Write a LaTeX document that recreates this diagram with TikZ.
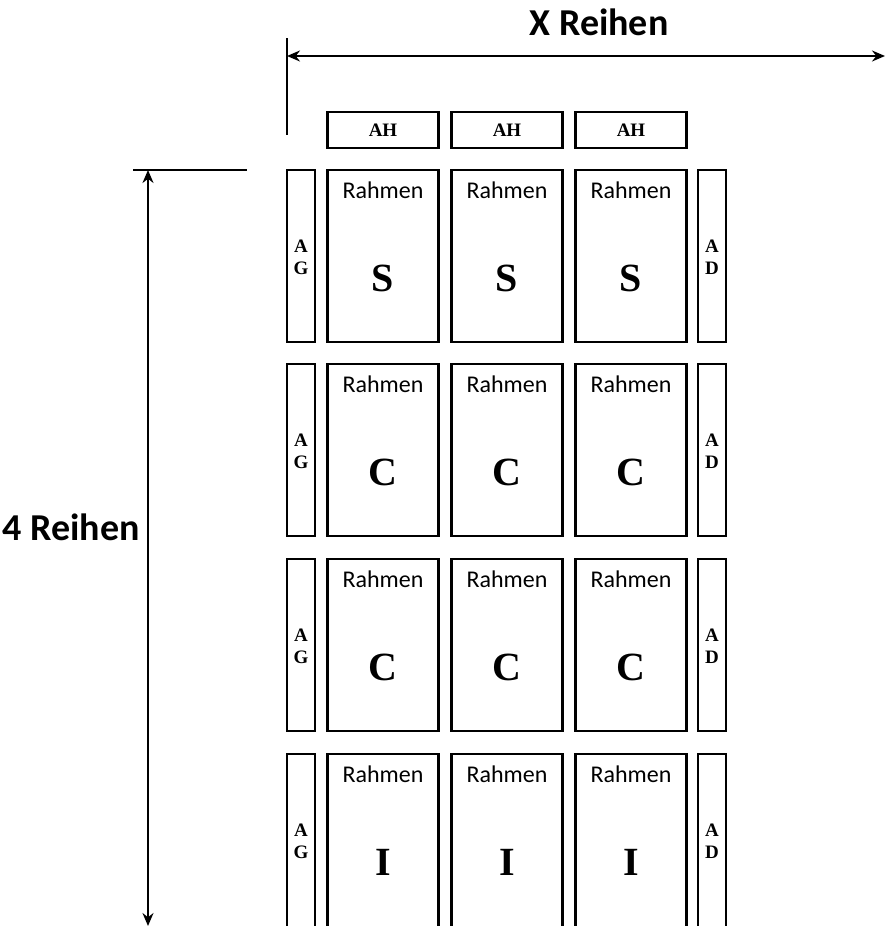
\documentclass[tikz,border=0pt]{standalone}
\usepackage{fontspec}
\setmainfont{Carlito}
\newfontfamily\serifb{Liberation Serif}
\usetikzlibrary{arrows.meta}
\begin{document}
\begin{tikzpicture}[x=1pt,y=-1pt,
  frame/.style={draw,line width=2.6pt,inner sep=0pt},
  mainbox/.style={frame,minimum width=111pt,minimum height=172pt},
  sidebox/.style={frame,minimum width=28pt,minimum height=172pt},
  ahbox/.style={frame,minimum width=111pt,minimum height=36pt,font=\serifb\bfseries\fontsize{19}{21}\selectfont},
  rtext/.style={font=\fontsize{24}{26}\selectfont,inner sep=0pt},
  bigletter/.style={font=\serifb\bfseries\fontsize{40}{42}\selectfont,inner sep=0pt},
  sideletter/.style={font=\serifb\bfseries\fontsize{19}{22}\selectfont,align=center,inner sep=0pt},
  title/.style={font=\bfseries\fontsize{38}{40}\selectfont,inner sep=0pt},
  dim/.style={line width=1.8pt,{Stealth[length=13pt,width=11pt]}-{Stealth[length=13pt,width=11pt]}},
  tick/.style={line width=1.6pt}
]
\clip (0,0) rectangle (894,926);
\useasboundingbox (0,0) rectangle (894,926);
% titles
\node[title] (xr) at (599,22) {X Reihen};
\node[title] (vr) at (71,527) {4 Reihen};
% dimension lines
\coordinate (hl) at (287,56);
\coordinate (hr) at (885,56);
\draw[dim] (hl) -- (hr);
\coordinate (t1a) at (287,38);
\coordinate (t1b) at (287,135);
\draw[tick] (t1a) -- (t1b);
\coordinate (vt) at (148,170);
\coordinate (vb) at (148,926);
\draw[dim] (vt) -- (vb);
\coordinate (t2a) at (133,170);
\coordinate (t2b) at (247,170);
\draw[tick] (t2a) -- (t2b);
% AH boxes
\foreach \x [count=\i] in {383,507,631}{
  \node[ahbox] (ah\i) at (\x,130) {AH};
}
% rows
\foreach \top/\L [count=\r] in {170/S,364/C,559/C,754/I}{
  \pgfmathsetmacro{\h}{\r==4 ? 200 : 172}
  \pgfmathsetmacro{\cy}{\top+\h/2}
  \node[sidebox,minimum height=\h pt] (ag\r) at (301,\cy) {};
  \node[sideletter] (agt\r) at (301,\top+87) {A\\G};
  \node[sidebox,minimum height=\h pt] (ad\r) at (712,\cy) {};
  \node[sideletter] (adt\r) at (712,\top+87) {A\\D};
  \foreach \x [count=\c] in {383,507,631}{
    \node[mainbox,minimum height=\h pt] (m\r\c) at (\x,\cy) {};
    \node[rtext] (rt\r\c) at (\x,\top+20) {Rahmen};
    \node[bigletter] (bl\r\c) at (\x,\top+108) {\L};
  }
}
\end{tikzpicture}
\end{document}
